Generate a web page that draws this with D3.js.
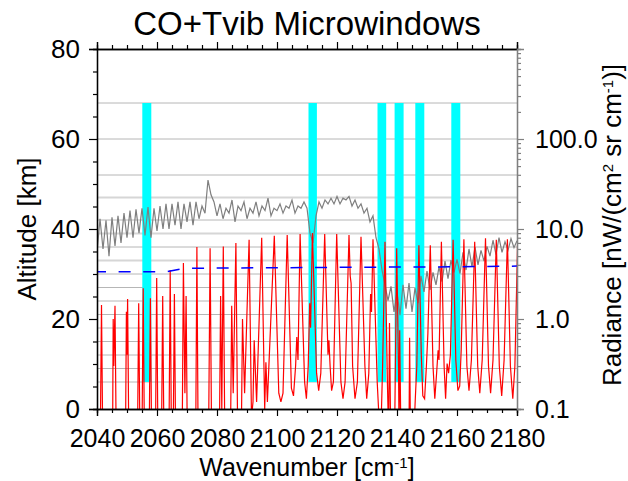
<!DOCTYPE html>
<html>
<head>
<meta charset="utf-8">
<script src="https://cdn.jsdelivr.net/npm/d3@7"></script>
<style>
body { margin: 0; background: #fff; }
text { font-family: "Liberation Sans", Arial, Helvetica, sans-serif; fill: #000; }
</style>
</head>
<body>
<script>
// ---- data ----
var tangentAlts = [6, 9, 12, 15, 18, 21, 24, 27, 30, 33, 36, 39, 42, 47, 52, 60, 68];
var faintAlts = [33, 39, 47];

// microwindows [cm-1] and the altitude range they are used in [km]
var mwStart = [2055.1, 2110.5, 2133.5, 2139.2, 2146.1, 2158.1];
var mwEnd   = [2058.1, 2113.3, 2136.4, 2142.2, 2149.1, 2161.1];
var mwAltBottom = 6;
var mwAltTop = 68;

// grey spectrum, one value per cm-1 from 2040 to 2180 [nW/(cm2 sr cm-1)]
var grayFirstWn = 2040;
var grayRad = [
  5.5, 13, 6, 12.5, 5, 13.5, 6.5, 14, 7, 15, 8,
  16, 8, 16.5, 9, 17, 8.5, 17.5, 8, 17, 9.5,
  18, 10, 19, 10, 19, 11, 20, 10, 19, 12,
  20, 11, 20, 13, 18, 15, 35, 24, 20, 14,
  19, 13, 17, 15, 21, 12, 18, 16, 20, 13,
  17, 15, 20, 14, 18, 16, 22, 14, 17, 16,
  19, 15, 18, 17, 21, 15, 18, 17, 20, 17,
  9, 7, 14, 20, 17, 21, 19, 22, 19, 23,
  19, 22, 21, 23, 18, 21, 17, 19, 15, 17,
  12, 14, 8, 6, 3.5, 2.4, 1.6, 2.3, 1.2, 2.0,
  1.1, 2.4, 1.3, 2.5, 1.2, 2.2, 1.5, 3.0, 2.0, 3.4,
  2.1, 3.3, 2.4, 3.8, 2.6, 4.4, 2.8, 4.5, 3.3, 4.6,
  3.2, 5.5, 3.5, 6.0, 3.8, 6.3, 4.0, 5.8, 4.4, 6.4,
  5.0, 7.5, 5.2, 8.0, 5.5, 7.2, 5.8, 7.8, 6.2, 7.4
];

// red spectrum vertices
var redWn = [
  2040.0,
  2041.1, 2041.5, 2041.9,
  2045.2, 2045.4, 2045.6, 2046.0, 2046.4,
  2049.5, 2049.8, 2050.0, 2050.2, 2050.6,
  2053.5, 2053.9, 2054.3,
  2055.0, 2055.4, 2055.8,
  2057.4, 2057.8, 2058.2,
  2059.5, 2059.9, 2060.3,
  2061.5, 2061.9, 2062.3,
  2064.0, 2064.4, 2064.8,
  2065.4, 2065.8, 2066.2,
  2068.4, 2068.8, 2069.3, 2069.7, 2070.1,
  2072.9, 2073.3, 2073.7,
  2077.2, 2077.7, 2078.2,
  2080.8, 2081.2, 2081.6, 2082.1, 2082.6,
  2084.5, 2084.9, 2085.4, 2086.3, 2086.9,
  2088.1, 2088.5, 2089.2, 2090.7, 2091.5,
  2092.0, 2092.4, 2093.2, 2094.9, 2095.9,
  2096.3, 2096.8, 2099.1, 2100.6, 2101.3, 2102.0,
  2103.4, 2104.8, 2105.5, 2106.2, 2106.6, 2107.0,
  2107.7, 2109.2, 2109.8, 2110.4, 2110.9, 2111.2,
  2111.8, 2113.2, 2113.9, 2114.6,
  2115.9, 2117.0, 2117.3, 2117.7, 2118.2, 2118.8,
  2119.9, 2121.3, 2122.0, 2122.7,
  2124.0, 2124.4, 2124.7, 2125.2, 2126.0, 2126.8,
  2128.0, 2129.3, 2129.9, 2130.6, 2131.2, 2131.5,
  2132.0, 2133.4, 2134.0, 2134.6, 2135.2,
  2136.0, 2136.8, 2137.2, 2137.5, 2137.9, 2139.3,
  2139.9, 2140.5, 2140.7, 2140.9, 2141.3,
  2144.0, 2144.2, 2144.5, 2145.6, 2146.1, 2146.6,
  2147.3, 2148.1, 2148.6, 2149.2, 2149.8, 2150.3,
  2151.1, 2152.0, 2152.6, 2153.2, 2153.7, 2154.0,
  2154.8, 2155.7, 2156.2, 2156.7, 2157.2, 2157.8,
  2158.7, 2159.6, 2160.3, 2160.9, 2161.4,
  2162.3, 2163.3, 2164.0, 2164.8,
  2165.9, 2166.9, 2167.6, 2168.4,
  2169.5, 2170.5, 2171.2, 2172.0,
  2173.1, 2174.1, 2174.9, 2175.7,
  2176.8, 2177.8, 2178.6, 2179.3,
  2180.2
];
var redRad = [
  0.05,
  0.05, 1.43, 0.05,
  0.05, 1.0, 0.3, 1.4, 0.05,
  0.05, 1.2, 0.4, 1.67, 0.05,
  0.05, 1.5, 0.05,
  0.05, 2.2, 0.05,
  0.05, 1.7, 0.05,
  0.05, 2.85, 0.05,
  0.05, 1.8, 0.05,
  0.05, 3.5, 0.05,
  0.05, 1.9, 0.05,
  0.05, 4.2, 0.15, 1.8, 0.05,
  0.05, 6.3, 0.05,
  0.05, 6.1, 0.05,
  0.05, 1.8, 0.1, 6.4, 0.05,
  0.05, 1.4, 0.15, 7.0, 0.05,
  0.05, 1.0, 0.15, 7.6, 0.08,
  0.12, 0.58, 0.12, 8.0, 0.1,
  0.33, 0.12, 8.4, 0.15, 0.12, 0.15,
  8.6, 0.17, 0.14, 0.3, 0.63, 0.35,
  8.8, 0.2, 0.13, 0.3, 1.5, 0.8,
  9.0, 0.25, 0.16, 0.25,
  8.8, 0.4, 0.58, 0.3, 0.16, 0.2,
  8.8, 0.2, 0.13, 0.2,
  8.6, 3.0, 2.5, 0.3, 0.13, 0.2,
  8.2, 0.3, 0.13, 0.25, 1.9, 1.2,
  7.7, 0.2, 0.08, 0.05, 0.3,
  7.2, 0.2, 0.05, 0.9, 0.05, 0.1,
  6.1, 0.3, 0.05, 0.75, 0.05,
  0.05, 0.62, 0.05, 0.05, 0.13, 0.3,
  6.6, 0.4, 0.14, 0.13, 0.3, 0.7,
  6.6, 0.3, 0.13, 0.25, 0.45, 0.35,
  7.2, 0.3, 0.13, 0.32, 0.25, 0.4,
  7.6, 0.35, 0.16, 0.18, 0.45,
  7.7, 0.3, 0.16, 0.35,
  7.2, 0.3, 0.15, 0.35,
  7.9, 0.3, 0.15, 0.35,
  7.6, 0.3, 0.14, 0.35,
  7.7, 0.3, 0.13, 0.3,
  7.0
];

// blue dashed line
var blueWn  = [2040, 2063, 2069, 2120, 2160, 2180];
var blueRad = [3.35, 3.35, 3.66, 3.75, 3.8, 3.87];

// axes
var xMajor = [2040, 2060, 2080, 2100, 2120, 2140, 2160, 2180];
var altMajor = [0, 20, 40, 60, 80];
var radMajor = [0.1, 1, 10, 100];
var radLabels = ["0.1", "1.0", "10.0", "100.0"];

// ---- layout ----
var width = 628, height = 481;
var plotL = 97, plotR = 517, plotT = 49, plotB = 409;

var svg = d3.select("body").append("svg")
    .attr("width", width)
    .attr("height", height);

var x = d3.scaleLinear().domain([2040, 2180]).range([plotL, plotR]);
var yAlt = d3.scaleLinear().domain([0, 80]).range([plotB, plotT]);
var yRad = d3.scaleLog().domain([0.1, 1000]).range([plotB, plotT]);

svg.append("clipPath").attr("id", "plotclip")
  .append("rect")
    .attr("x", plotL).attr("y", plotT)
    .attr("width", plotR - plotL).attr("height", plotB - plotT);

// tangent altitude grid
svg.append("g").selectAll("line")
  .data(tangentAlts)
  .join("line")
    .attr("x1", plotL).attr("x2", plotR)
    .attr("y1", function(d) { return yAlt(d); })
    .attr("y2", function(d) { return yAlt(d); })
    .attr("stroke", function(d) { return faintAlts.indexOf(d) >= 0 ? "#d6d6d6" : "#b6b6b6"; })
    .attr("stroke-width", function(d) { return faintAlts.indexOf(d) >= 0 ? 2 : 1; });

// microwindows
svg.append("g").selectAll("rect")
  .data(d3.range(mwStart.length))
  .join("rect")
    .attr("x", function(i) { return x(mwStart[i]); })
    .attr("width", function(i) { return x(mwEnd[i]) - x(mwStart[i]); })
    .attr("y", yAlt(mwAltTop))
    .attr("height", yAlt(mwAltBottom) - yAlt(mwAltTop))
    .attr("fill", "#00ffff");

var data = svg.append("g").attr("clip-path", "url(#plotclip)");

var gray = grayRad.map(function(v, i) { return [grayFirstWn + i, v]; });
var red = redWn.map(function(w, i) { return [w, redRad[i]]; });
var blue = blueWn.map(function(w, i) { return [w, blueRad[i]]; });

var line = d3.line()
    .x(function(d) { return x(d[0]); })
    .y(function(d) { return yRad(d[1]); });

data.append("path").datum(gray)
    .attr("d", line)
    .attr("fill", "none")
    .attr("stroke", "#7f7f7f")
    .attr("stroke-width", 1.2);

data.append("path").datum(red)
    .attr("d", line)
    .attr("fill", "none")
    .attr("stroke", "#ff0000")
    .attr("stroke-width", 1.2);

data.append("path").datum(blue)
    .attr("d", line)
    .attr("fill", "none")
    .attr("stroke", "#0000ff")
    .attr("stroke-width", 1.5)
    .attr("stroke-dasharray", "12,12.6")
    .attr("stroke-dashoffset", 3);

// ---- axes ----
var xMinor = d3.range(2040, 2181, 5).filter(function(v) { return xMajor.indexOf(v) < 0; });
var altMinor = d3.range(0, 81, 5).filter(function(v) { return altMajor.indexOf(v) < 0; });
var radMinor = [];
[0.1, 1, 10, 100].forEach(function(dec) {
  for (var k = 2; k <= 9; k++) radMinor.push(dec * k);
});

function styleAxis(g, color, size) {
  g.selectAll("path.domain").attr("stroke", color).attr("stroke-width", 1.3);
  g.selectAll(".tick line").attr("stroke", color).attr("stroke-width", 1.2);
  g.selectAll(".tick text")
    .attr("font-size", size)
    .attr("font-family", "'Liberation Sans', Arial, sans-serif")
    .attr("fill", "#000");
}

// bottom
svg.append("g").attr("transform", "translate(0," + plotB + ")")
  .call(d3.axisBottom(x).tickValues(xMinor).tickSize(4).tickFormat(""))
  .call(function(g) { styleAxis(g, "#000", 25); });
svg.append("g").attr("transform", "translate(0," + plotB + ")")
  .call(d3.axisBottom(x).tickValues(xMajor).tickSize(7).tickPadding(13).tickFormat(d3.format("d")))
  .call(function(g) { styleAxis(g, "#000", 25); });

// top
svg.append("g").attr("transform", "translate(0," + plotT + ")")
  .call(d3.axisTop(x).tickValues(xMinor).tickSize(4).tickFormat(""))
  .call(function(g) { styleAxis(g, "#000", 25); });
svg.append("g").attr("transform", "translate(0," + plotT + ")")
  .call(d3.axisTop(x).tickValues(xMajor).tickSize(7).tickFormat(""))
  .call(function(g) { styleAxis(g, "#000", 25); });

// left
svg.append("g").attr("transform", "translate(" + plotL + ",0)")
  .call(d3.axisLeft(yAlt).tickValues(altMinor).tickSize(4).tickFormat(""))
  .call(function(g) { styleAxis(g, "#000", 25); });
svg.append("g").attr("transform", "translate(" + plotL + ",0)")
  .call(d3.axisLeft(yAlt).tickValues(altMajor).tickSize(8).tickPadding(9))
  .call(function(g) { styleAxis(g, "#000", 26); });

// right (log radiance)
svg.append("g").attr("transform", "translate(" + plotR + ",0)")
  .call(d3.axisRight(yRad).tickValues(radMinor).tickSize(4).tickFormat(""))
  .call(function(g) { styleAxis(g, "#808080", 25); });
svg.append("g").attr("transform", "translate(" + plotR + ",0)")
  .call(d3.axisRight(yRad).tickValues(radMajor).tickSize(7).tickPadding(11)
        .tickFormat(function(d, i) { return radLabels[i]; }))
  .call(function(g) { styleAxis(g, "#808080", 25); });

// ---- titles ----
svg.append("text")
    .attr("x", (plotL + plotR) / 2)
    .attr("y", 35)
    .attr("text-anchor", "middle")
    .attr("font-size", 33)
    .text("CO+Tvib Microwindows");

var xl = svg.append("text")
    .attr("x", (plotL + plotR) / 2)
    .attr("y", 476)
    .attr("text-anchor", "middle")
    .attr("font-size", 25);
xl.append("tspan").text("Wavenumber [cm");
xl.append("tspan").attr("baseline-shift", "super").attr("font-size", 15).text("-1");
xl.append("tspan").text("]");

svg.append("text")
    .attr("transform", "translate(36," + (plotT + plotB) / 2 + ") rotate(-90)")
    .attr("text-anchor", "middle")
    .attr("font-size", 26)
    .text("Altitude [km]");

var rl = svg.append("text")
    .attr("transform", "translate(621,225) rotate(-90)")
    .attr("text-anchor", "middle")
    .attr("font-size", 26);
rl.append("tspan").text("Radiance [nW/(cm");
rl.append("tspan").attr("baseline-shift", "super").attr("font-size", 15).text("2");
rl.append("tspan").text(" sr cm");
rl.append("tspan").attr("baseline-shift", "super").attr("font-size", 15).text("-1");
rl.append("tspan").text(")]");
</script>
</body>
</html>
